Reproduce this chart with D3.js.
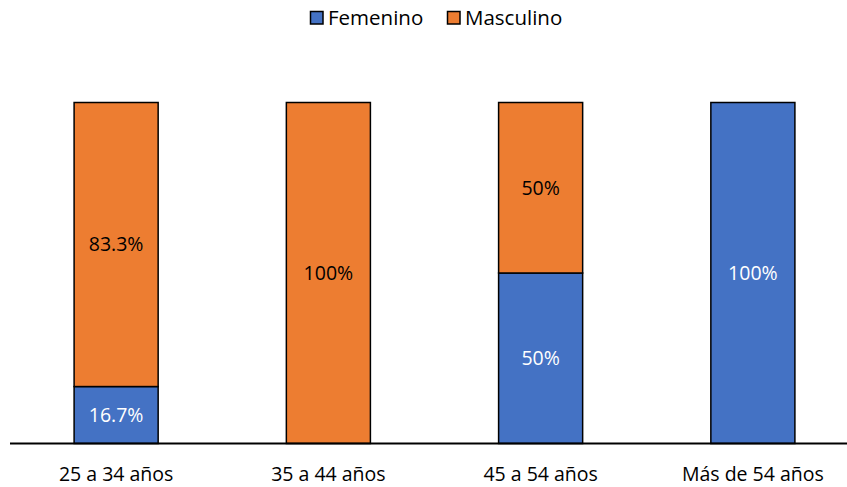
<!DOCTYPE html>
<html>
<head>
<meta charset="utf-8">
<script src="https://cdn.jsdelivr.net/npm/d3@7"></script>
<style>
  html, body { margin: 0; padding: 0; background: #fff; }
  svg { display: block; font-family: "Open Sans", "Noto Sans", sans-serif; }
</style>
</head>
<body>
<svg id="chart" width="847" height="487"></svg>
<script>
// Age groups and the share of each sex within them
const categories = ["25 a 34 años", "35 a 44 años", "45 a 54 años", "Más de 54 años"];
const seriesNames = ["Femenino", "Masculino"];
const femenino = [16.7, 0, 50, 100];
const masculino = [83.3, 100, 50, 0];
const femeninoLabels = ["16.7%", "", "50%", "100%"];
const masculinoLabels = ["83.3%", "100%", "50%", ""];
const colors = ["#4472C4", "#ED7D31"];

const FONT = "'Open Sans', 'Noto Sans', sans-serif";
const LABEL_SIZE = 19.5;
const svg = d3.select("#chart");
const W = 847, H = 487;

const rows = categories.map((c, i) => ({
  cat: c,
  Femenino: femenino[i],
  Masculino: masculino[i],
  labels: { Femenino: femeninoLabels[i], Masculino: masculinoLabels[i] }
}));

const x = d3.scaleBand()
  .domain(categories)
  .range([10, 859])
  .paddingInner(0.604)
  .paddingOuter(0.302);

const y = d3.scaleLinear().domain([0, 100]).range([443.5, 102.5]);

const stack = d3.stack().keys(seriesNames);
const layers = stack(rows);

const color = d3.scaleOrdinal().domain(seriesNames).range(colors);

const g = svg.append("g");

layers.forEach(layer => {
  const key = layer.key;
  const lg = g.append("g");
  lg.selectAll("rect")
    .data(layer.filter(d => d[1] - d[0] > 0))
    .join("rect")
    .attr("x", d => x(d.data.cat))
    .attr("width", x.bandwidth())
    .attr("y", d => y(d[1]))
    .attr("height", d => y(d[0]) - y(d[1]))
    .attr("fill", color(key))
    .attr("stroke", "#000")
    .attr("stroke-width", 1.5);

  lg.selectAll("text")
    .data(layer.filter(d => d[1] - d[0] > 0))
    .join("text")
    .attr("x", d => x(d.data.cat) + x.bandwidth() / 2)
    .attr("y", d => (y(d[0]) + y(d[1])) / 2)
    .attr("dy", "0.35em")
    .attr("text-anchor", "middle")
    .attr("font-size", LABEL_SIZE)
    .attr("fill", key === "Femenino" ? "#fff" : "#000")
    .text(d => d.data.labels[key]);
});

// Category axis along the baseline
const axis = d3.axisBottom(x).tickSize(0).tickPadding(0);
const ax = svg.append("g")
  .attr("transform", `translate(0,${y(0)})`)
  .call(axis);
ax.select(".domain").remove();
ax.selectAll("text")
  .attr("y", 37.5)
  .attr("dy", null)
  .attr("font-size", LABEL_SIZE)
  .attr("fill", "#000")
  .style("font-family", FONT);
svg.append("line")
  .attr("x1", 10).attr("x2", W)
  .attr("y1", y(0)).attr("y2", y(0))
  .attr("stroke", "#000")
  .attr("stroke-width", 2);

// Legend
const legend = svg.append("g").attr("transform", "translate(310,11)");
const legendX = [0, 137];
seriesNames.forEach((name, i) => {
  const item = legend.append("g").attr("transform", `translate(${legendX[i]},0)`);
  item.append("rect")
    .attr("x", 0.5).attr("y", 0.5)
    .attr("width", 12.5).attr("height", 12.5)
    .attr("fill", colors[i])
    .attr("stroke", "#000")
    .attr("stroke-width", 1.5);
  item.append("text")
    .attr("x", 18).attr("y", 14)
    .attr("font-size", 20.5)
    .attr("fill", "#000")
    .text(name);
});
</script>
</body>
</html>
